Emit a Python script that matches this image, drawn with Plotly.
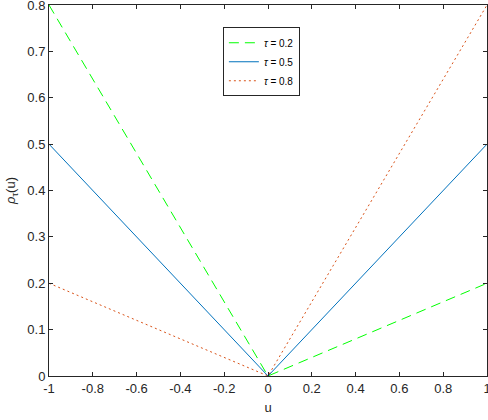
import plotly.graph_objects as go

u = [-1.0, 0.0, 1.0]
rho_02 = [0.8, 0.0, 0.2]
rho_05 = [0.5, 0.0, 0.5]
rho_08 = [0.2, 0.0, 0.8]
names = ["<i>τ</i> = 0.2", "<i>τ</i> = 0.5", "<i>τ</i> = 0.8"]
xticks = [-1, -0.8, -0.6, -0.4, -0.2, 0, 0.2, 0.4, 0.6, 0.8, 1]
xticklabels = ["-1", "-0.8", "-0.6", "-0.4", "-0.2", "0", "0.2", "0.4", "0.6", "0.8", "1"]
yticks = [0, 0.1, 0.2, 0.3, 0.4, 0.5, 0.6, 0.7, 0.8]
yticklabels = ["0", "0.1", "0.2", "0.3", "0.4", "0.5", "0.6", "0.7", "0.8"]

fig = go.Figure()
fig.add_trace(go.Scatter(x=u, y=rho_02, mode="lines", name=names[0],
                         line=dict(color="#00FF00", width=1, dash="10px,6px")))
fig.add_trace(go.Scatter(x=u, y=rho_05, mode="lines", name=names[1],
                         line=dict(color="#0072BD", width=1)))
fig.add_trace(go.Scatter(x=u, y=rho_08, mode="lines", name=names[2],
                         line=dict(color="#D95319", width=1, dash="2px,3px")))

font = dict(family="Liberation Sans, Arial", size=13, color="#262626")
axis_common = dict(showgrid=False, zeroline=False, showline=True, linecolor="#262626",
                   linewidth=1, mirror="ticks", ticks="inside", ticklen=4,
                   tickcolor="#262626", tickfont=font, automargin=False,
                   ticklabeloverflow="allow")

fig.update_xaxes(range=[-1, 1], tickvals=xticks, ticktext=xticklabels,
                 title=dict(text="u", font=font, standoff=8), **axis_common)
fig.update_yaxes(range=[0, 0.8], tickvals=yticks, ticktext=yticklabels,
                 title=dict(text="<i>ρ</i><sub>τ</sub>(u)", font=font, standoff=8), **axis_common)

fig.update_layout(
    width=488, height=420,
    margin=dict(l=49, r=1, t=5, b=44),
    plot_bgcolor="white", paper_bgcolor="white",
    showlegend=True,
    legend=dict(x=0.397, y=0.94, xanchor="left", yanchor="top",
                bgcolor="white", bordercolor="#262626", borderwidth=1,
                font=dict(family="Liberation Sans, Arial", size=10, color="#000000"),
                tracegroupgap=0),
)

fig.write_html("out.html", config={"displayModeBar": False},
               post_script="document.body.style.margin='0';")
